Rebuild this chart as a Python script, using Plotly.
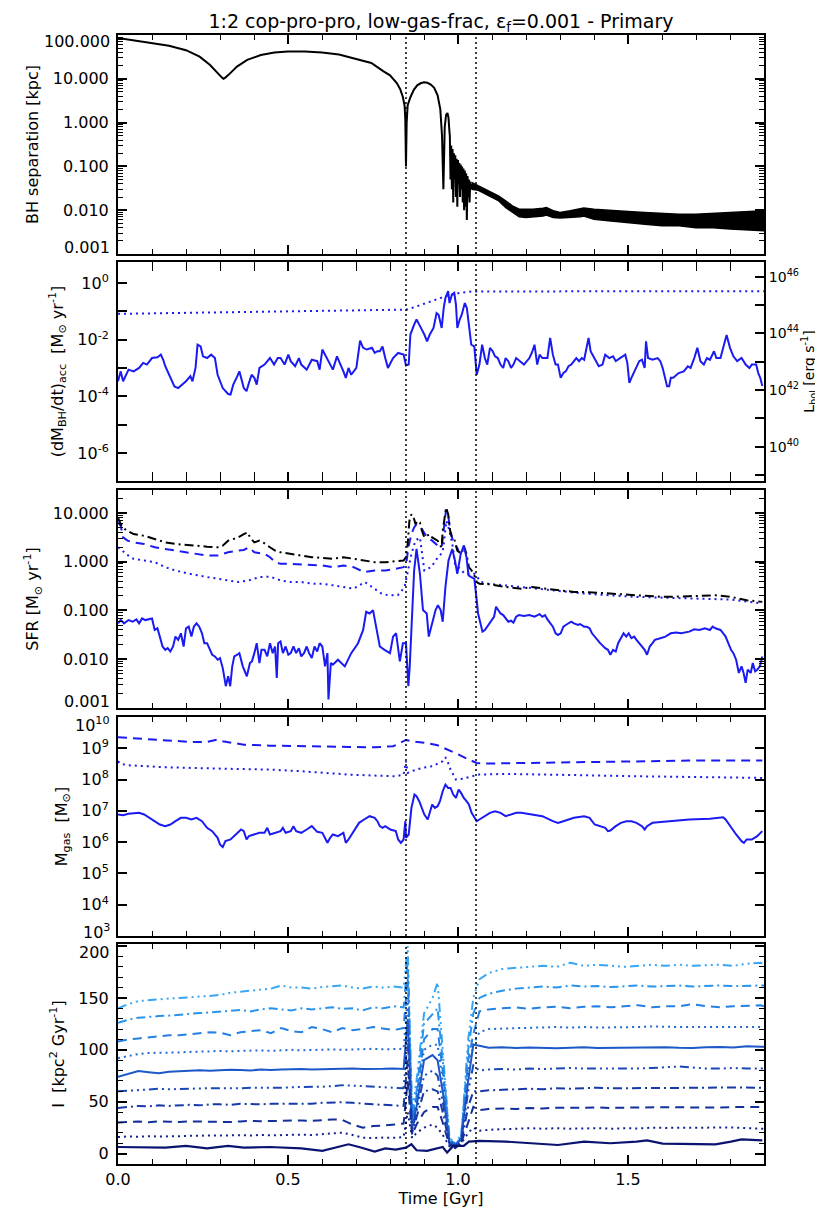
import plotly.graph_objects as go

# ---------------- DATA ----------------
TITLE = "1:2 cop-pro-pro, low-gas-frac, \u03b5<sub>f</sub>=0.001 - Primary"
EVENT_TIMES = [0.847, 1.053]
LBOL_OFFSET = 45.78   # log10 L_bol [erg/s] for 1 Msun/yr (right axis of panel 2)

# Panel 1: BH separation [kpc]
SEP_T = [0.000,0.05,0.10,0.15,0.20,0.24,0.27,0.29,0.305,0.31,0.315,0.325,0.35,0.38,0.42,0.46,0.50,0.55,0.60,0.65,0.70,0.745,0.78,0.80,0.82,0.83,0.838,0.843,0.845,0.847,0.849,0.852,0.86,0.87,0.88,0.89,0.90,0.91,0.92,0.93,0.94,0.948,0.953,0.957,0.961,0.965,0.969,0.972,0.975,
         0.976,0.978,0.980,0.982,0.984,0.986,0.988,0.990,0.992,0.994,0.996,0.998,1.000,1.002,1.004,1.006,1.008,1.010,1.012,1.014,1.016,1.018,1.020,1.022,1.024,1.026,1.028,1.030,1.032,1.034,1.036,1.038,1.040]
SEP_KPC = [85,74,67,57,45,32,21,14,10.8,10.0,10.5,12.3,19,27,35,40,42,42,40,36,29,23,15,12,8.0,5.8,3.8,2.4,1.2,0.1,1.0,2.5,3.8,5.6,7.1,7.9,8.3,8.1,7.4,6.2,4.2,2.0,0.5,0.03,0.8,1.5,1.66,1.3,0.6,
           0.5,0.05,0.3,0.03,0.25,0.015,0.2,0.05,0.18,0.02,0.15,0.012,0.14,0.04,0.12,0.02,0.11,0.03,0.1,0.015,0.09,0.01,0.08,0.012,0.07,0.006,0.06,0.02,0.05,0.015,0.045,0.03,0.04]
BAND_T  = [1.04,1.06,1.08,1.10,1.12,1.14,1.16,1.18,1.20,1.22,1.25,1.26,1.28,1.30,1.33,1.36,1.37,1.40,1.45,1.50,1.55,1.60,1.65,1.70,1.75,1.80,1.85,1.90]
BAND_HI = [0.043,0.036,0.030,0.025,0.021,0.0163,0.0125,0.0105,0.0105,0.0105,0.0111,0.0115,0.0097,0.0089,0.0097,0.0109,0.0112,0.0105,0.0097,0.0093,0.0089,0.0084,0.0081,0.0081,0.0084,0.0089,0.0093,0.0097]
BAND_LO = [0.030,0.0285,0.0231,0.0194,0.0163,0.0115,0.0089,0.0071,0.0068,0.0071,0.0074,0.0078,0.0068,0.0066,0.0068,0.0071,0.0074,0.0062,0.0057,0.0053,0.0048,0.0044,0.0044,0.0040,0.0040,0.0037,0.0035,0.0034]

# Panel 2: accretion rate, (time, log10 Msun/yr)
MDOT = [(0.000,-3.47),(0.008,-3.12),(0.015,-3.47),(0.031,-3.06),(0.046,-3.12),(0.062,-3.00),(0.074,-2.82),(0.085,-2.88),(0.100,-2.65),(0.116,-2.62),(0.126,-2.53),(0.133,-2.71),(0.139,-2.94),(0.154,-3.35),(0.166,-3.65),(0.177,-3.71),(0.200,-3.47),(0.213,-3.29),(0.219,-3.47),(0.228,-3.00),(0.234,-2.18),(0.243,-2.24),(0.250,-2.59),(0.262,-2.65),(0.274,-2.53),(0.285,-2.65),(0.293,-3.24),(0.308,-3.71),(0.324,-3.92),(0.331,-3.94),(0.339,-3.59),(0.351,-3.29),(0.357,-3.12),(0.370,-3.71),(0.378,-3.82),(0.385,-3.53),(0.393,-3.24),(0.401,-3.35),(0.408,-3.59),(0.416,-3.00),(0.431,-2.88),(0.447,-2.65),(0.459,-2.88),(0.470,-2.65),(0.478,-2.65),(0.490,-2.88),(0.501,-2.53),(0.508,-2.76),(0.521,-2.94),(0.532,-2.65),(0.539,-2.88),(0.555,-3.06),(0.570,-2.71),(0.586,-2.76),(0.593,-3.06),(0.601,-2.35),(0.609,-2.53),(0.616,-2.65),(0.632,-3.06),(0.644,-2.59),(0.655,-2.88),(0.663,-3.12),(0.670,-3.35),(0.678,-3.00),(0.686,-3.24),(0.693,-3.12),(0.701,-3.00),(0.712,-2.04),(0.721,-2.29),(0.732,-2.35),(0.747,-2.29),(0.755,-2.47),(0.763,-2.41),(0.770,-2.41),(0.778,-2.24),(0.786,-2.65),(0.794,-3.00),(0.809,-2.65),(0.824,-2.47),(0.840,-2.53),(0.847,-2.91),(0.855,-2.88),(0.860,-1.82),(0.871,-1.47),(0.878,-1.29),(0.886,-1.47),(0.894,-1.65),(0.901,-1.82),(0.909,-2.06),(0.917,-1.82),(0.928,-1.59),(0.937,-1.06),(0.943,-1.12),(0.952,-1.59),(0.958,-0.88),(0.963,-0.53),(0.971,-0.29),(0.975,-0.71),(0.982,-0.41),(0.989,-0.35),(0.994,-0.76),(0.998,-1.59),(1.005,-1.29),(1.011,-1.12),(1.020,-0.71),(1.026,-0.88),(1.032,-1.47),(1.039,-2.18),(1.048,-2.24),(1.055,-3.24),(1.063,-2.88),(1.071,-2.18),(1.079,-2.65),(1.086,-2.88),(1.094,-2.29),(1.102,-2.41),(1.109,-2.59),(1.117,-2.65),(1.125,-2.88),(1.133,-3.00),(1.140,-2.65),(1.148,-2.76),(1.156,-3.00),(1.163,-2.88),(1.171,-2.65),(1.183,-2.76),(1.194,-2.88),(1.210,-2.65),(1.217,-2.47),(1.225,-2.18),(1.233,-2.88),(1.240,-2.53),(1.248,-2.65),(1.256,-2.65),(1.263,-2.65),(1.271,-1.94),(1.279,-2.53),(1.287,-2.88),(1.294,-2.88),(1.302,-3.35),(1.310,-3.18),(1.317,-3.12),(1.325,-2.94),(1.333,-2.88),(1.341,-2.76),(1.348,-2.65),(1.356,-2.76),(1.364,-2.65),(1.371,-2.71),(1.384,-1.94),(1.390,-2.41),(1.402,-2.65),(1.414,-2.94),(1.425,-2.88),(1.433,-2.53),(1.445,-2.65),(1.456,-2.59),(1.464,-2.76),(1.479,-2.65),(1.492,-2.53),(1.498,-2.82),(1.504,-3.53),(1.510,-3.35),(1.525,-3.00),(1.533,-2.76),(1.541,-2.71),(1.549,-3.00),(1.553,-2.06),(1.559,-2.65),(1.572,-2.71),(1.587,-2.65),(1.595,-2.76),(1.602,-3.00),(1.615,-3.65),(1.621,-3.65),(1.626,-3.35),(1.633,-3.35),(1.649,-3.18),(1.664,-3.12),(1.676,-2.94),(1.684,-3.00),(1.695,-2.65),(1.704,-2.29),(1.713,-2.76),(1.723,-2.88),(1.732,-2.65),(1.741,-2.71),(1.753,-2.41),(1.760,-2.65),(1.772,-2.65),(1.781,-2.29),(1.790,-1.84),(1.800,-2.29),(1.810,-2.59),(1.821,-2.76),(1.834,-2.65),(1.846,-2.88),(1.857,-3.00),(1.864,-2.88),(1.877,-2.88),(1.883,-3.18),(1.889,-3.35),(1.895,-3.64)]
MDOT_EDD = [(0.0,-1.09),(0.29,-1.04),(0.60,-1.00),(0.755,-0.98),(0.85,-0.94),(0.88,-0.82),(0.92,-0.65),(0.96,-0.48),(1.0,-0.36),(1.04,-0.30),(1.9,-0.29)]

# Panel 3: SFR (time, log10 Msun/yr)
SFR_SOLID = [(0.000,-1.264),(0.008,-1.197),(0.018,-1.264),(0.031,-1.197),(0.043,-1.231),(0.054,-1.183),(0.062,-1.264),(0.071,-1.163),(0.080,-1.197),(0.089,-1.183),(0.100,-1.163),(0.108,-1.400),(0.116,-1.366),(0.123,-1.536),(0.131,-1.739),(0.139,-1.807),(0.146,-1.773),(0.154,-1.841),(0.162,-1.739),(0.169,-1.536),(0.177,-1.603),(0.185,-1.468),(0.193,-1.739),(0.200,-1.366),(0.208,-1.332),(0.216,-1.536),(0.223,-1.332),(0.231,-1.264),(0.239,-1.332),(0.247,-1.468),(0.254,-1.671),(0.262,-1.671),(0.270,-1.807),(0.277,-1.908),(0.285,-1.942),(0.293,-2.010),(0.300,-1.976),(0.308,-2.180),(0.313,-2.383),(0.317,-2.553),(0.324,-2.349),(0.330,-2.553),(0.336,-2.146),(0.342,-1.942),(0.351,-1.908),(0.357,-1.875),(0.367,-2.146),(0.373,-2.247),(0.379,-2.349),(0.388,-2.078),(0.394,-2.044),(0.401,-1.875),(0.408,-1.671),(0.416,-2.078),(0.422,-1.807),(0.431,-1.807),(0.439,-1.942),(0.447,-1.671),(0.455,-1.875),(0.462,-1.739),(0.467,-2.383),(0.471,-1.671),(0.478,-1.637),(0.485,-1.875),(0.493,-1.739),(0.501,-1.908),(0.508,-1.875),(0.516,-1.739),(0.524,-1.875),(0.532,-1.773),(0.539,-1.942),(0.547,-1.875),(0.555,-1.739),(0.562,-1.875),(0.570,-1.976),(0.578,-1.739),(0.586,-1.841),(0.593,-1.671),(0.601,-1.739),(0.609,-2.146),(0.616,-1.875),(0.619,-2.824),(0.626,-2.078),(0.632,-2.112),
             (0.647,-2.010),(0.667,-2.146),(0.686,-1.875),(0.706,-1.671),(0.721,-1.400),(0.730,-1.027),(0.740,-1.061),(0.750,-0.993),(0.760,-1.332),(0.770,-1.739),(0.784,-1.807),(0.800,-1.875),(0.809,-1.536),(0.818,-1.468),(0.829,-2.044),(0.838,-1.671),(0.847,-1.671),(0.854,-2.553),(0.858,-2.146),(0.864,-1.197),(0.871,-0.180),(0.878,0.261),(0.888,-0.247),(0.897,-0.993),(0.908,-1.061),(0.914,-1.536),(0.921,-1.332),(0.934,-0.993),(0.941,-0.892),(0.949,-0.993),(0.955,-1.231),(0.963,-0.519),(0.972,0.024),(0.983,0.261),(0.991,0.024),(0.998,-0.247),(1.008,0.159),(1.017,0.329),(1.025,0.092),(1.031,-0.281),(1.039,-0.315),(1.048,-0.349),(1.054,-0.722),(1.059,-1.061),
             (1.066,-1.264),(1.072,-1.434),(1.079,-1.400),(1.086,-1.332),(1.094,-1.264),(1.106,-1.129),(1.112,-0.925),(1.119,-0.993),(1.125,-1.061),(1.133,-1.095),(1.140,-1.163),(1.148,-1.231),(1.156,-1.210),(1.163,-1.251),(1.171,-1.129),(1.179,-1.095),(1.194,-1.115),(1.210,-1.095),(1.225,-1.129),(1.240,-1.075),(1.248,-1.129),(1.256,-1.095),(1.263,-1.183),(1.279,-1.332),(1.287,-1.468),(1.294,-1.502),(1.302,-1.468),(1.310,-1.332),(1.317,-1.298),(1.325,-1.264),(1.333,-1.231),(1.341,-1.264),(1.353,-1.298),(1.359,-1.278),(1.371,-1.332),(1.379,-1.332),(1.387,-1.366),(1.394,-1.468),(1.402,-1.536),(1.410,-1.603),(1.418,-1.671),(1.433,-1.773),(1.441,-1.807),(1.448,-1.908),(1.456,-1.807),(1.464,-1.841),(1.471,-1.671),(1.479,-1.569),(1.487,-1.468),(1.495,-1.536),(1.502,-1.468),(1.510,-1.569),(1.518,-1.536),(1.525,-1.603),(1.533,-1.671),(1.541,-1.739),(1.549,-1.807),(1.556,-1.908),(1.564,-1.739),(1.572,-1.671),(1.579,-1.603),(1.595,-1.569),(1.610,-1.536),(1.618,-1.502),(1.626,-1.468),(1.641,-1.454),(1.656,-1.468),(1.680,-1.434),(1.695,-1.386),(1.710,-1.400),(1.726,-1.366),(1.741,-1.400),(1.749,-1.332),(1.757,-1.366),(1.772,-1.400),(1.780,-1.468),(1.787,-1.536),(1.795,-1.671),(1.803,-1.807),(1.810,-1.875),(1.818,-2.010),(1.826,-2.281),(1.834,-2.146),(1.840,-2.281),(1.846,-2.485),(1.852,-2.214),(1.861,-2.281),(1.867,-2.078),(1.874,-2.247),(1.880,-2.214),(1.888,-2.146),(1.895,-1.942)]
SFR_TOTAL = [(0.000,0.905),(0.008,0.770),(0.023,0.647),(0.046,0.566),(0.077,0.532),(0.108,0.464),(0.139,0.397),(0.169,0.363),(0.216,0.329),(0.262,0.308),(0.293,0.295),(0.308,0.329),(0.324,0.431),(0.354,0.498),(0.370,0.566),(0.382,0.600),(0.388,0.498),(0.401,0.397),(0.416,0.431),(0.431,0.376),(0.447,0.295),(0.462,0.227),(0.478,0.193),(0.508,0.159),(0.539,0.125),(0.570,0.092),(0.601,0.078),(0.632,0.058),(0.663,0.092),(0.693,0.058),(0.724,0.024),(0.755,-0.010),(0.786,-0.010),(0.817,0.010),(0.840,0.024),(0.847,0.092),(0.852,0.363),(0.857,0.837),(0.863,0.973),(0.871,0.871),(0.875,0.770),(0.881,0.837),(0.888,0.803),(0.894,0.634),(0.901,0.498),(0.909,0.532),(0.917,0.566),(0.924,0.498),(0.932,0.464),(0.940,0.431),(0.948,0.329),(0.952,0.295),(0.955,0.634),(0.960,0.905),(0.965,1.108),(0.971,0.973),(0.977,0.634),(0.983,0.498),(0.989,0.464),(0.998,0.227),(1.005,0.193),(1.011,0.159),(1.017,0.329),(1.025,0.159),(1.032,-0.112),(1.040,-0.180),(1.048,-0.281),(1.055,-0.417),(1.063,-0.451),(1.094,-0.464),(1.140,-0.519),(1.186,-0.553),(1.217,-0.519),(1.263,-0.553),(1.294,-0.586),(1.341,-0.620),(1.371,-0.620),(1.448,-0.654),(1.525,-0.688),(1.602,-0.722),(1.680,-0.708),(1.757,-0.688),(1.803,-0.722),(1.849,-0.790),(1.895,-0.824)]
SFR_DASHED = [(0.000,0.803),(0.008,0.736),(0.015,0.498),(0.028,0.431),(0.046,0.397),(0.077,0.363),(0.108,0.295),(0.139,0.261),(0.169,0.227),(0.200,0.193),(0.231,0.159),(0.262,0.125),(0.293,0.125),(0.324,0.193),(0.354,0.227),(0.370,0.241),(0.385,0.295),(0.401,0.193),(0.431,0.159),(0.447,0.092),(0.462,-0.010),(0.478,-0.044),(0.508,-0.044),(0.539,-0.058),(0.570,-0.078),(0.601,-0.078),(0.632,-0.112),(0.663,-0.078),(0.693,-0.112),(0.724,-0.214),(0.755,-0.180),(0.786,-0.180),(0.817,-0.146),(0.840,-0.112),(0.847,-0.078),(0.855,0.329),(0.863,0.566),(0.871,0.702),(0.878,0.770),(0.886,0.736),(0.894,0.668),(0.909,0.498),(0.924,0.431),(0.940,0.329),(0.952,0.295),(0.958,0.702),(0.965,1.075),(0.971,0.973),(0.978,0.566),(0.986,0.431),(1.002,0.227)]
SFR_DOTTED = [(0.000,0.295),(0.008,0.261),(0.023,0.159),(0.046,0.058),(0.077,0.024),(0.108,-0.010),(0.139,-0.112),(0.169,-0.180),(0.200,-0.234),(0.231,-0.281),(0.262,-0.315),(0.293,-0.349),(0.324,-0.383),(0.354,-0.417),(0.385,-0.383),(0.416,-0.315),(0.447,-0.308),(0.462,-0.349),(0.478,-0.383),(0.508,-0.417),(0.539,-0.417),(0.570,-0.451),(0.601,-0.451),(0.632,-0.485),(0.663,-0.519),(0.693,-0.553),(0.726,-0.417),(0.746,-0.519),(0.775,-0.654),(0.794,-0.688),(0.823,-0.688),(0.843,-0.519),(0.854,-0.180),(0.863,0.159),(0.875,0.431),(0.888,0.498),(0.901,-0.180),(0.921,-0.112),(0.941,0.092),(0.955,0.193),(0.966,0.837),(0.975,0.634),(0.985,0.295),(0.991,-0.044),(1.020,-0.247),(1.049,-0.247),(1.068,-0.417),(1.088,-0.451),(1.137,-0.485),(1.186,-0.519),(1.236,-0.553),(1.371,-0.654),(1.525,-0.722),(1.680,-0.756),(1.803,-0.776),(1.895,-0.858)]

# Panel 4: gas mass (time, log10 Msun)
MGAS_DASHED = [(0.000,9.351),(0.139,9.245),(0.216,9.202),(0.262,9.202),(0.293,9.277),(0.308,9.223),(0.370,9.117),(0.447,9.085),(0.524,9.064),(0.601,9.064),(0.678,9.043),(0.755,9.032),(0.809,9.064),(0.824,9.138),(0.840,9.223),(0.847,9.266),(0.863,9.223),(0.909,9.170),(0.940,9.096),(0.971,8.957),(1.002,8.798),(1.032,8.638),(1.055,8.532),(1.079,8.511),(1.217,8.532),(1.371,8.564),(1.525,8.585),(1.680,8.606),(1.895,8.606)]
MGAS_DOTTED = [(0.000,8.585),(0.008,8.500),(0.031,8.457),(0.139,8.394),(0.293,8.351),(0.447,8.319),(0.539,8.266),(0.601,8.213),(0.678,8.160),(0.755,8.128),(0.817,8.106),(0.840,8.160),(0.847,8.585),(0.852,8.213),(0.863,8.266),(0.894,8.372),(0.924,8.426),(0.955,8.585),(0.963,8.713),(0.971,8.532),(0.978,8.319),(0.994,8.000),(1.017,8.032),(1.040,8.106),(1.063,8.160),(1.140,8.181),(1.217,8.160),(1.371,8.138),(1.525,8.106),(1.680,8.085),(1.895,8.053)]
MGAS_SOLID = [(0.000,6.883),(0.015,6.862),(0.031,6.904),(0.062,6.936),(0.077,6.883),(0.092,6.777),(0.108,6.670),(0.123,6.564),(0.139,6.511),(0.154,6.564),(0.169,6.670),(0.185,6.777),(0.200,6.777),(0.216,6.723),(0.231,6.777),(0.247,6.670),(0.262,6.457),(0.277,6.351),(0.293,6.138),(0.300,5.926),(0.308,5.840),(0.316,6.032),(0.331,6.085),(0.347,6.245),(0.362,6.404),(0.370,6.351),(0.378,6.085),(0.385,6.191),(0.401,6.245),(0.416,6.298),(0.431,6.298),(0.439,6.457),(0.447,6.245),(0.462,6.298),(0.478,6.351),(0.485,6.457),(0.493,6.298),(0.508,6.351),(0.516,6.511),(0.524,6.351),(0.539,6.298),(0.555,6.404),(0.570,6.511),(0.586,6.330),(0.601,6.298),(0.616,5.979),(0.624,6.138),(0.632,6.245),(0.647,6.191),(0.663,6.298),(0.670,5.979),(0.678,6.085),(0.693,6.351),(0.709,6.617),(0.724,6.723),(0.740,6.830),(0.755,6.777),(0.763,6.670),(0.770,6.511),(0.778,6.457),(0.786,6.511),(0.801,6.404),(0.817,6.351),(0.824,6.085),(0.832,5.979),(0.840,6.085),(0.845,6.670),(0.847,6.138),(0.855,6.245),(0.863,7.096),(0.872,7.521),(0.878,7.468),(0.886,7.309),(0.894,7.096),(0.901,6.883),(0.911,6.723),(0.917,6.989),(0.924,7.202),(0.932,7.096),(0.940,7.149),(0.947,7.309),(0.955,7.628),(0.963,7.840),(0.971,7.734),(0.978,7.734),(0.986,7.521),(0.994,7.415),(1.002,7.681),(1.009,7.574),(1.017,7.415),(1.025,7.309),(1.032,7.202),(1.040,6.936),(1.048,6.777),(1.055,6.670),(1.063,6.723),(1.079,6.830),(1.094,6.936),(1.109,6.989),(1.125,6.936),(1.140,6.830),(1.156,6.883),(1.171,6.936),(1.186,6.936),(1.217,6.883),(1.248,6.830),(1.279,6.670),(1.294,6.617),(1.310,6.670),(1.341,6.777),(1.371,6.830),(1.387,6.777),(1.402,6.564),(1.418,6.511),(1.433,6.457),(1.441,6.351),(1.448,6.372),(1.464,6.511),(1.479,6.617),(1.495,6.670),(1.510,6.670),(1.525,6.617),(1.541,6.511),(1.549,6.404),(1.556,6.511),(1.572,6.617),(1.618,6.670),(1.680,6.723),(1.741,6.745),(1.780,6.798),(1.787,6.723),(1.803,6.457),(1.818,6.245),(1.834,6.032),(1.841,5.979),(1.849,6.085),(1.864,6.085),(1.880,6.191),(1.895,6.351)]

# Panel 5: specific angular momentum, 10 shells [kpc^2/Gyr]
L1_T = [0.000,0.139,0.200,0.262,0.324,0.370,0.447,0.539,0.601,0.632,0.678,0.709,0.755,0.786,0.817,0.847,0.863,0.878,0.909,0.955,0.968,0.986,1.017,1.032,1.063,1.140,1.217,1.294,1.371,1.448,1.525,1.556,1.602,1.680,1.757,1.803,1.834,1.895]
L1_V = [6.4,5.8,7.4,5.1,7.4,5.8,6.4,5.1,2.6,5.1,9.0,6.4,1.9,5.1,3.9,5.8,9.0,3.2,2.6,6.4,1.0,7.4,7.4,11.6,12.2,11.6,9.6,8.3,11.6,10.0,11.6,12.8,9.6,9.0,9.0,11.6,13.8,12.8]
LM_T = [0.00,0.03,0.06,0.09,0.12,0.15,0.18,0.21,0.24,0.27,0.30,0.33,0.36,0.39,0.42,0.45,0.48,0.51,0.54,0.57,0.60,0.63,0.66,0.69,0.72,0.75,0.78,0.81,0.84,
        0.852,0.865,0.878,0.90,0.925,0.94,0.955,0.975,0.995,1.01,1.03,1.045,
        1.063,1.09,1.13,1.17,1.21,1.25,1.29,1.33,1.37,1.41,1.45,1.49,1.53,1.57,1.61,1.65,1.69,1.73,1.77,1.81,1.85,1.89,1.90]
L2_V  = [16,16.5,16.2,16.8,16.5,17,16.8,17.2,17.4,17,17.5,17.3,17.7,17.5,18,17.6,18,18.2,18.3,18,18.6,19,20.2,18,15.4,15,15.5,15.2,16,
         40,15,20,25,28,25,18,7,5,10,20,25,
         22,23,23.5,24,24.5,24,24.5,24,24.3,24.5,24,24.5,24.2,25,24.8,25,25.3,25,25.5,25.2,24.5,24,24]
L3_V  = [30,30.5,31,30.2,31,30.8,30.5,31,30.8,31.2,31,30.5,31,31.5,31.2,31.5,31.5,32,32,31.5,32,33,32.5,28,25,26.5,27,28,29,
         70,18,28,40,45,45,30,8,6,11,30,45,
         42,43,43.5,43,44,43.5,44.3,44,44.3,44.5,44,44.3,44.5,44.2,44.5,44.8,44.5,44.3,44.5,44.8,45,45,45]
L4_V  = [44,45,46,45.5,46.5,46,46.5,47,46.5,47.5,47.5,47,48,47.5,47.5,48,48,48.5,48.5,48,49,49.5,49.5,49,48,47.5,47,46.5,46,
         90,20,35,60,62,60,40,9,7,12,45,60,
         60,61,61.5,62,62.5,62,63,62.5,63,63.5,63,63,63.5,63,63.5,63.5,63,63.5,63.8,63.5,63.5,63.5,63.5]
L5_V  = [60,60.5,61.5,62,62.5,62,62.5,63,62.8,63,63,62.5,63,63.5,63.5,63,63.5,64,64,64.5,64.5,65,66,65.5,65,64.5,64,63.5,63,
         110,22,40,75,80,75,50,10,7,14,60,85,
         80,81,81.5,81,82,81.5,82,82.5,82,82,81.5,82,82,82.5,83,84,83,82,82,82.5,82,82,82]
L6_V  = [74,77,79.5,78.5,77.5,79,79.5,80,80.3,79.8,80.3,80.8,80.5,80.2,81,80.6,81,81.3,81.5,81,81.2,81.8,81.5,82,81.6,82,81.7,82,81.5,
         130,25,45,90,95,90,60,11,8,15,70,105,
         104,102,102.5,101.8,102.3,102,101.5,102,102.4,101.8,102,102.5,102,102.3,102.6,102,101.8,102.5,102.8,102.3,103.5,103,103]
L7_V  = [92,94,96,97,97,97.5,97.5,98,98,98.5,99,98.5,99,99.5,99.5,99,99.5,100,99.5,100,100,100.5,100,100.5,100.5,101,100.5,101,101,
         150,28,50,100,105,105,70,12,8,16,80,105,
         117,120,120.5,121,121.5,122,122,121.5,122,121.5,121.5,122,122,122.5,122,122,122,122,122.5,122,122,122,122]
L8_V  = [108,110,111,112,113,114,114,115,115.5,117,116.5,114,117,118,119,116,121,118,117,122,120,117,121,119,120,122,120.5,119,121,
         170,30,55,110,120,120,80,13,9,17,90,115,
         137,139,140,141,139.5,141,141.5,140,141.5,142,141,142,143,141,142,142,144,142,141,142,142.5,143,142]
L9_V  = [126,129,131,132,132.5,133,134,135,135.5,136,137,138,138.5,137,139,140,139,138,140,139,140,141,139.5,140,138,141,140,142,141,
         185,35,60,125,135,140,90,14,9,18,100,135,
         150,154,157,159,160,161,160,162,161,161.5,160.5,161.5,162,161,161.5,162,161,161.5,162,161.5,162,162.5,162]
L10_V = [140,144,147,148,149,149.5,150,150.5,151.5,152,153,155,156,157,158,159,162,160,160,159,160.5,161,162,160,159,161,160,161,160,
         200,40,70,135,150,165,100,15,10,20,110,150,
         168,174,178,179,180,181,180,184,181,182,181,180,181,182,181,182,181,181.5,182,181,183,184,182]

# ---------------- STYLE ----------------
FONT = "DejaVu Sans"
BLUE = "#1a1af2"
SHELL_COLORS = ["#0a1470", "#10228a", "#13309a", "#1638a8", "#1a48b8",
                "#1c58c8", "#1f6ad6", "#2480e2", "#2a94ec", "#38a6f4"]
DOT = "2px,4px"
DASH = "9px,6px"
DASHDOT = "9px,4px,2px,4px"
DASH3DOT = "9px,4px,2px,4px,2px,4px,2px,4px"
SHELL_DASH = ["solid", DOT, DASH, DASHDOT, DASH3DOT, "solid", DOT, DASH, DASHDOT, DASH3DOT]

fig = go.Figure()

def line(x, y, xa, ya, color, dash="solid", width=2, opacity=1.0):
    fig.add_trace(go.Scatter(x=x, y=y, xaxis=xa, yaxis=ya, mode="lines", opacity=opacity,
                             line=dict(color=color, dash=dash, width=width),
                             showlegend=False, hoverinfo="skip"))

def unz(pairs, offset=0.0):
    return [p[0] for p in pairs], [10 ** (p[1] + offset) for p in pairs]

# Panel 1
line(SEP_T, SEP_KPC, "x", "y", "black", width=2)
fig.add_trace(go.Scatter(x=BAND_T + BAND_T[::-1], y=BAND_HI + BAND_LO[::-1], xaxis="x", yaxis="y",
                         mode="lines", fill="toself", fillcolor="black",
                         line=dict(color="black", width=1.5), showlegend=False, hoverinfo="skip"))

# Panel 2
x, y = unz(MDOT_EDD); line(x, y, "x2", "y2", BLUE, DOT, 2)
x, y = unz(MDOT); line(x, y, "x2", "y2", BLUE, "solid", 2)
x, y = unz(MDOT, LBOL_OFFSET); line(x, y, "x2", "y6", BLUE, "solid", 2, opacity=0)  # same curve in L_bol units (keeps right axis alive)

# Panel 3
x, y = unz(SFR_DOTTED); line(x, y, "x3", "y3", BLUE, DOT, 2)
x, y = unz(SFR_DASHED); line(x, y, "x3", "y3", BLUE, DASH, 2)
x, y = unz(SFR_TOTAL); line(x, y, "x3", "y3", "black", DASHDOT, 2)
x, y = unz(SFR_SOLID); line(x, y, "x3", "y3", BLUE, "solid", 2)

# Panel 4
x, y = unz(MGAS_DASHED); line(x, y, "x4", "y4", BLUE, DASH, 2)
x, y = unz(MGAS_DOTTED); line(x, y, "x4", "y4", BLUE, DOT, 2)
x, y = unz(MGAS_SOLID); line(x, y, "x4", "y4", BLUE, "solid", 2)

# Panel 5
shells = [L2_V, L3_V, L4_V, L5_V, L6_V, L7_V, L8_V, L9_V, L10_V]
for i in range(9, 0, -1):
    line(LM_T, shells[i - 1], "x5", "y5", SHELL_COLORS[i], SHELL_DASH[i], 2)
line(L1_T, L1_V, "x5", "y5", SHELL_COLORS[0], "solid", 2.2)

# ---------------- LAYOUT ----------------
H = 1210
TOP, BOT = 27, 54
PH = H - TOP - BOT
panels_px = [(27, 246), (254, 473), (482, 700), (709, 928), (936, 1156)]
def dom(a, b):
    return [max(0, (H - BOT - b) / PH), min(1, (H - BOT - a) / PH)]

tickfont = dict(family=FONT, size=16, color="black")
rtickfont = dict(family=FONT, size=14, color="black")
titlefont = dict(family=FONT, size=16, color="black")
minor_x = [round(0.1 * k, 1) for k in range(1, 19) if k % 5 != 0]

def xaxis(i, last=False):
    d = dict(domain=[0, 1], anchor="y" if i == 1 else "y%d" % i, range=[0, 1.9],
             showline=True, linewidth=2, linecolor="black", mirror="allticks",
             ticks="inside", ticklen=9, tickwidth=1.5, tickcolor="black",
             tickmode="array", tickvals=[0, 0.5, 1.0, 1.5], ticktext=["0.0", "0.5", "1.0", "1.5"],
             showticklabels=last, showgrid=False, zeroline=False, tickfont=tickfont,
             minor=dict(ticks="inside", ticklen=5, tickwidth=1.2, tickcolor="black",
                        tickmode="array", tickvals=minor_x, showgrid=False))
    if last:
        d["title"] = dict(text="Time [Gyr]", font=titlefont, standoff=4)
    return d

def yaxis(i, **kw):
    d = dict(domain=dom(*panels_px[i - 1]), anchor="x" if i == 1 else "x%d" % i,
             showline=True, linewidth=2, linecolor="black", mirror="allticks",
             ticks="inside", ticklen=9, tickwidth=1.5, tickcolor="black", ticklabelstandoff=4,
             showgrid=False, zeroline=False, tickfont=tickfont, tickmode="array")
    d.update(kw)
    return d

def minor_log(d0, d1):
    return dict(ticks="inside", ticklen=5, tickwidth=1.2, tickcolor="black", tickmode="array",
                tickvals=[k * 10 ** d for d in range(d0, d1) for k in range(2, 10)], showgrid=False)

sup = lambda e: "10<sup>%d</sup>" % e

layout = dict(
    width=823, height=H, paper_bgcolor="white", plot_bgcolor="white",
    margin=dict(l=110, r=67, t=TOP, b=BOT),
    font=dict(family=FONT, color="black"),
    title=dict(text=TITLE, x=0.5, xref="paper", xanchor="center", y=1 - 13 / H, yanchor="middle",
               font=dict(family=FONT, size=19, color="black")),
    showlegend=False,
)
for i in range(1, 6):
    layout["xaxis" if i == 1 else "xaxis%d" % i] = xaxis(i, last=(i == 5))

# edge tick labels are drawn as annotations (nudged inside the panel, as in the original)
edge_labels = []  # (yref, y-position in axis units, text, shift)

layout["yaxis"] = yaxis(1, type="log", range=[-3, 2],
                        tickvals=[0.001, 0.01, 0.1, 1, 10, 100],
                        ticktext=["", "0.010", "0.100", "1.000", "10.000", ""],
                        minor=minor_log(-3, 2),
                        title=dict(text="BH separation [kpc]", font=titlefont, standoff=10))
edge_labels += [("y", 2, "100.000", -6), ("y", -3, "0.001", 7)]

layout["yaxis2"] = yaxis(2, type="log", range=[-6.99, 0.74], mirror=True,
                         tickvals=[1e-6, 1e-4, 1e-2, 1], ticktext=[sup(-6), sup(-4), sup(-2), sup(0)],
                         minor=dict(ticks="inside", ticklen=9, tickwidth=1.5, tickcolor="black",
                                    tickmode="array", tickvals=[1e-5, 1e-3, 1e-1], showgrid=False),
                         title=dict(text="(dM<sub>BH</sub>/dt)<sub>acc</sub>  [M<sub>\u2299</sub> yr<sup>-1</sup>]",
                                    font=titlefont, standoff=10))
layout["yaxis6"] = dict(overlaying="y2", side="right", anchor="x2", type="log",
                        range=[-6.99 + LBOL_OFFSET, 0.74 + LBOL_OFFSET],
                        showline=True, linewidth=2, linecolor="black", ticks="inside", ticklen=9,
                        tickwidth=1.5, tickcolor="black", showgrid=False, zeroline=False,
                        tickfont=rtickfont, tickmode="array", ticklabelstandoff=0,
                        tickvals=[1e40, 1e42, 1e44, 1e46], ticktext=[sup(40), sup(42), sup(44), sup(46)],
                        minor=dict(ticks="inside", ticklen=9, tickwidth=1.5, tickcolor="black",
                                   tickmode="array", tickvals=[1e39, 1e41, 1e43, 1e45], showgrid=False),
                        title=dict(text="L<sub>bol</sub> [erg s<sup>-1</sup>]",
                                   font=dict(family=FONT, size=14, color="black"), standoff=0))
layout["yaxis3"] = yaxis(3, type="log", range=[-3, 1.47],
                         tickvals=[0.001, 0.01, 0.1, 1, 10],
                         ticktext=["", "0.010", "0.100", "1.000", "10.000"],
                         minor=minor_log(-3, 2),
                         title=dict(text="SFR [M<sub>\u2299</sub> yr<sup>-1</sup>]", font=titlefont, standoff=10))
edge_labels += [("y3", -3, "0.001", 7)]
layout["yaxis4"] = yaxis(4, type="log", range=[3, 10],
                         tickvals=[10 ** e for e in range(3, 11)],
                         ticktext=[""] + [sup(e) for e in range(4, 10)] + [""],
                         title=dict(text="M<sub>gas</sub>  [M<sub>\u2299</sub>]", font=titlefont, standoff=10))
edge_labels += [("y4", 10, sup(10), -7), ("y4", 3, sup(3), 5)]
layout["yaxis5"] = yaxis(5, range=[-10, 202], tickvals=[0, 50, 100, 150, 200],
                         ticktext=["0", "50", "100", "150", ""],
                         minor=dict(ticks="inside", ticklen=5, tickwidth=1.2, tickcolor="black",
                                    tickmode="array", tickvals=[v for v in range(-10, 201, 10) if v % 50 != 0],
                                    showgrid=False),
                         title=dict(text="I  [kpc<sup>2</sup> Gyr<sup>-1</sup>]", font=titlefont, standoff=10))
edge_labels += [("y5", 200, "200", -6)]
fig.update_layout(**layout)

for yref, yv, txt, shift in edge_labels:
    fig.add_annotation(xref="paper", x=0, xanchor="right", xshift=-6, yref=yref, y=yv,
                       yanchor="middle", yshift=shift, text=txt, showarrow=False, font=tickfont)

# vertical event markers in every panel
shapes = []
for i in range(1, 6):
    xr = "x" if i == 1 else "x%d" % i
    yr = "y domain" if i == 1 else "y%d domain" % i
    for t in EVENT_TIMES:
        shapes.append(dict(type="line", xref=xr, yref=yr, x0=t, x1=t, y0=0, y1=1,
                           line=dict(color="black", width=1.5, dash="2px,3px"), layer="above"))
fig.update_layout(shapes=shapes)

fig.write_html("out.html")
